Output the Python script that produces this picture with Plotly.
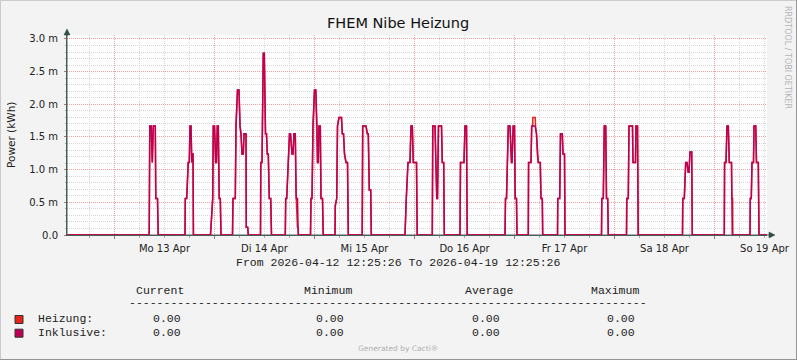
import plotly.graph_objects as go

# ---------------- data ----------------
# time axis: hours since 2026-04-12 12:25:26 ; values in milli-kWh (axis shows "m")
day_labels = ["Mo 13 Apr", "Di 14 Apr", "Mi 15 Apr", "Do 16 Apr", "Fr 17 Apr", "Sa 18 Apr", "So 19 Apr"]
first_midnight_h = 11.4          # position of Mon 13 Apr 00:00 on the hour axis
y_tick_vals = [0.0, 0.5, 1.0, 1.5, 2.0, 2.5, 3.0]
y_tick_text = ["0.0", "0.5 m", "1.0 m", "1.5 m", "2.0 m", "2.5 m", "3.0 m"]

inklusive_t = [0.0,
    19.73, 19.87, 20.21, 20.47, 20.71, 21.19, 21.31, 21.72, 21.89,
    28.32, 28.39, 28.73, 29.09, 29.35, 29.52, 29.76, 29.95, 30.07, 30.24, 30.34,
    34.44, 34.80, 34.97, 35.11, 35.40, 35.69, 35.88, 36.07, 36.31, 36.53, 36.79, 36.96,
    39.72, 39.84, 40.39, 40.56, 40.92, 41.28, 41.52, 41.76, 42.00, 42.31, 42.48, 42.96, 43.03, 43.37, 43.51,
    46.44, 46.51, 46.80, 47.11, 47.35, 47.64, 47.88, 48.07, 48.31, 48.55, 48.89, 49.08,
    52.39, 52.49, 52.73, 53.04, 53.40, 53.64, 54.00, 54.24, 54.48, 54.79, 55.01, 55.32, 55.49,
    58.44, 58.56, 58.80, 59.04, 59.40, 59.71, 60.00, 60.12, 60.31, 60.48, 60.79, 60.96, 61.32, 61.49,
    64.32, 64.39, 64.73, 64.92, 65.28, 65.88, 66.07, 66.36, 66.60, 66.96, 67.32, 67.51,
    70.85, 70.97, 71.76, 72.07, 72.31, 72.55, 72.89, 73.03,
    81.12, 81.29, 81.43, 81.84, 82.32, 82.56, 82.87, 83.11, 83.88, 84.05,
    87.67, 87.79, 88.32, 88.75, 88.92, 89.16, 89.88, 90.07, 90.41, 90.55,
    94.32, 94.44, 95.28, 95.52, 95.88, 96.05,
    105.12, 105.24, 105.48, 105.91, 106.32, 106.68, 106.80, 107.09, 107.40, 107.57, 107.88, 108.00,
    110.71, 110.78, 111.36, 111.53, 112.32, 112.68, 112.87, 113.11, 113.59, 113.76, 114.07, 114.17,
    117.72, 117.79, 118.25, 118.44, 118.87, 119.04, 119.40, 119.52,
    128.28, 128.35, 128.71, 128.95, 129.29, 129.48, 129.77, 129.91,
    134.28, 134.35, 134.71, 134.88, 135.72, 135.84, 136.44, 136.56, 136.92, 137.09,
    147.72, 147.79, 148.15, 148.49, 148.80, 149.09, 149.28, 149.52, 149.93, 150.07,
    157.75, 157.82, 158.16, 158.40, 158.71, 158.95, 159.48, 159.67,
    163.92, 163.99, 164.23, 164.40, 164.76, 164.88, 165.29, 165.48, 165.91, 166.08,
    168.0]
inklusive_v = [0.0,
    0, 1.67, 1.67, 1.11, 1.67, 1.67, 0.56, 0.56, 0,
    0, 0.56, 0.56, 1.11, 1.11, 1.67, 1.67, 1.11, 1.24, 1.24, 0,
    0, 0.56, 0.56, 1.67, 1.67, 1.11, 1.11, 1.67, 1.67, 0.56, 0.56, 0,
    0, 0.56, 0.56, 1.67, 2.22, 2.22, 1.67, 1.55, 1.24, 1.24, 1.55, 1.55, 0.12, 0.12, 0,
    0, 1.11, 1.11, 2.78, 2.78, 1.55, 1.55, 1.24, 1.24, 0.56, 0.56, 0,
    0, 0.56, 0.56, 1.11, 1.55, 1.55, 1.24, 1.24, 1.55, 1.55, 0.56, 0.56, 0,
    0, 0.56, 0.56, 1.67, 2.22, 2.22, 1.67, 1.11, 1.11, 1.67, 1.67, 0.56, 0.56, 0,
    0, 0.45, 0.56, 1.67, 1.80, 1.80, 1.55, 1.55, 1.24, 1.11, 1.11, 0,
    0, 1.67, 1.67, 1.55, 1.55, 0.69, 0.69, 0,
    0, 0.56, 0.56, 1.11, 1.11, 1.67, 1.67, 1.11, 1.11, 0,
    0, 1.67, 1.67, 0.56, 0.56, 1.67, 1.67, 1.11, 1.11, 0,
    0, 1.11, 1.11, 1.67, 1.67, 0,
    0, 0.56, 0.56, 1.67, 1.67, 1.11, 1.11, 1.67, 1.67, 0.56, 0.56, 0,
    0, 1.11, 1.11, 1.67, 1.67, 1.55, 1.24, 1.11, 1.11, 0.56, 0.56, 0,
    0, 0.56, 0.56, 1.55, 1.55, 1.24, 1.24, 0,
    0, 0.56, 0.56, 1.67, 1.67, 0.56, 0.56, 0,
    0, 0.56, 0.56, 1.67, 1.67, 1.11, 1.11, 1.67, 1.67, 0,
    0, 0.56, 0.56, 1.11, 1.11, 0.96, 0.96, 1.27, 1.27, 0,
    0, 1.11, 1.11, 1.67, 1.67, 1.11, 1.11, 0,
    0, 0.56, 0.56, 1.11, 1.11, 1.67, 1.67, 1.11, 1.11, 0,
    0.0]

# Heizung follows Inklusive except in these windows (start_h, end_h, points)
heizung_windows = [
    (55.01, 55.49, [(54.95, 0.68), (55.30, 0.12), (55.49, 0.12), (55.55, 0.0)]),
    (111.53, 112.32, [(111.53, 1.67), (111.77, 1.67), (111.80, 1.80), (112.37, 1.80), (112.45, 1.67)]),
    (159.48, 159.67, [(159.48, 1.11), (159.55, 0.56), (159.75, 0.56), (159.80, 0.0)]),
]

legend_names = ["Heizung:", "Inklusive:"]
legend_current = ["0.00", "0.00"]
legend_minimum = ["0.00", "0.00"]
legend_average = ["0.00", "0.00"]
legend_maximum = ["0.00", "0.00"]

# ---------------- build Heizung ----------------
pts = list(zip(inklusive_t, inklusive_v))
for a, b, rep in heizung_windows:
    pts = [p for p in pts if not (a <= p[0] <= b)] + rep
pts.sort(key=lambda p: p[0])
heizung_t = [p[0] for p in pts]
heizung_v = [p[1] for p in pts]

RED = "#E8231B"
CRIMSON = "#BC0055"
AXIS = "#44605A"
MONO = "Liberation Mono"
SANS = "DejaVu Sans"

fig = go.Figure()
fig.add_trace(go.Scatter(x=heizung_t, y=heizung_v, mode="lines",
                         line=dict(color=RED, width=1.5), hoverinfo="skip", showlegend=False))
fig.add_trace(go.Scatter(x=inklusive_t, y=inklusive_v, mode="lines",
                         line=dict(color=CRIMSON, width=1.5), hoverinfo="skip", showlegend=False))

L, R, T, B = 67, 767, 35, 235
def PX(x):
    return (x - L) / (R - L)
def PY(y):
    return (B - y) / (B - T)

major_x = [first_midnight_h + 24 * i for i in range(len(day_labels))]
minor_x = [first_midnight_h - 12 + 6 * k for k in range(0, 30)]
minor_x = [v for v in minor_x if 0 <= v <= 168 and v not in major_x]
minor_y = [round(0.1 * k, 2) for k in range(1, 31)]
minor_y = [v for v in minor_y if v not in y_tick_vals]

fig.update_layout(
    width=797, height=360,
    margin=dict(l=L, r=797 - R, t=T, b=360 - B, pad=0, autoexpand=False),
    paper_bgcolor="#F3F3F3", plot_bgcolor="#FFFFFF",
    showlegend=False,
    xaxis=dict(range=[0, 168], tickmode="array", tickvals=major_x, ticktext=day_labels,
               ticklabelshift=50, ticklabelstandoff=1,
               showgrid=True, gridcolor="rgba(235,120,120,0.7)", gridwidth=1, griddash="1px,1px",
               ticks="outside", ticklen=3, tickcolor="#9a8080",
               minor=dict(tickvals=minor_x, showgrid=True, gridcolor="#D6D6D6", griddash="1px,1px",
                          ticks="outside", ticklen=2, tickcolor="#aaaaaa"),
               showline=True, linecolor=AXIS, linewidth=1, layer="below traces",
               zeroline=False, tickfont=dict(family=SANS, size=10, color="#222222"),
               fixedrange=True),
    yaxis=dict(range=[0, 3.061], tickmode="array", tickvals=y_tick_vals, ticktext=y_tick_text,
               showgrid=True, gridcolor="rgba(235,120,120,0.7)", gridwidth=1, griddash="1px,1px",
               ticks="outside", ticklen=2, tickcolor="#9a8080", ticklabelstandoff=4,
               minor=dict(tickvals=minor_y, showgrid=True, gridcolor="#D6D6D6", griddash="1px,1px",
                          ticks="outside", ticklen=1, tickcolor="#aaaaaa"),
               showline=True, linecolor=AXIS, linewidth=1, layer="below traces",
               zeroline=False, tickfont=dict(family=SANS, size=10, color="#222222"),
               fixedrange=True),
)

shapes = []
# axis extensions and arrows
shapes.append(dict(type="line", xref="paper", yref="paper", x0=PX(67), x1=PX(770), y0=PY(235), y1=PY(235),
                   line=dict(color=AXIS, width=1), layer="below"))
shapes.append(dict(type="path", xref="paper", yref="paper",
                   path=f"M {PX(769)},{PY(232)} L {PX(775)},{PY(235)} L {PX(769)},{PY(238)} Z",
                   fillcolor="#2E4D44", line=dict(color="#2E4D44", width=0.5)))
shapes.append(dict(type="line", xref="paper", yref="paper", x0=PX(67), x1=PX(67), y0=PY(235), y1=PY(32),
                   line=dict(color=AXIS, width=1)))
shapes.append(dict(type="path", xref="paper", yref="paper",
                   path=f"M {PX(64)},{PY(35)} L {PX(67)},{PY(29)} L {PX(70)},{PY(35)} Z",
                   fillcolor="#2E4D44", line=dict(color="#2E4D44", width=0.5)))
# outer frame
shapes.append(dict(type="line", xref="paper", yref="paper", x0=PX(0), x1=PX(797), y0=PY(0.5), y1=PY(0.5),
                   line=dict(color="#CBCBCB", width=1)))
shapes.append(dict(type="line", xref="paper", yref="paper", x0=PX(0.5), x1=PX(0.5), y0=PY(0), y1=PY(360),
                   line=dict(color="#CBCBCB", width=1)))
shapes.append(dict(type="line", xref="paper", yref="paper", x0=PX(0), x1=PX(797), y0=PY(359.5), y1=PY(359.5),
                   line=dict(color="#959595", width=1)))
shapes.append(dict(type="line", xref="paper", yref="paper", x0=PX(796.5), x1=PX(796.5), y0=PY(0), y1=PY(360),
                   line=dict(color="#959595", width=1)))
# legend swatches
for i, col in enumerate([RED, CRIMSON]):
    y0 = 315.5 + i * 13.7
    shapes.append(dict(type="rect", xref="paper", yref="paper", x0=PX(15), x1=PX(23), y0=PY(y0), y1=PY(y0 + 8),
                       fillcolor=col, line=dict(color="#333333", width=1)))
fig.update_layout(shapes=shapes)

anns = []
def ann(text, x, y, size, family=SANS, color="#222222", xanchor="left", angle=0):
    anns.append(dict(text=text, x=PX(x), y=PY(y), xref="paper", yref="paper", showarrow=False,
                     xanchor=xanchor, yanchor="middle", textangle=angle, borderpad=0,
                     font=dict(family=family, size=size, color=color)))

ann("FHEM Nibe Heizung", 398, 23, 14.5, color="#111111", xanchor="center")
ann("Power (kWh)", 11, 135, 10.5, xanchor="center", angle=-90)
ann("RRDTOOL / TOBI OETIKER", 788, 57, 8, color="#B4B4B4", xanchor="center", angle=90)
ann("From 2026-04-12 12:25:26 To 2026-04-19 12:25:26", 397.5, 262.5, 11.5, family=MONO, xanchor="center")
ann("Current", 135, 290, 11.5, family=MONO)
ann("Minimum", 302.7, 290, 11.5, family=MONO)
ann("Average", 464.3, 290, 11.5, family=MONO)
ann("Maximum", 590, 290, 11.5, family=MONO)
ann("-" * 75, 128.3, 302, 11.5, family=MONO)
for i, name in enumerate(legend_names):
    yy = 318.5 + i * 13.7
    ann(name, 36.7, yy, 11.5, family=MONO)
    ann(legend_current[i], 151.7, yy, 11.5, family=MONO)
    ann(legend_minimum[i], 315, yy, 11.5, family=MONO)
    ann(legend_average[i], 470.7, yy, 11.5, family=MONO)
    ann(legend_maximum[i], 605.7, yy, 11.5, family=MONO)
ann("Generated by Cacti®", 398, 349, 7.5, color="#B0B0B0", xanchor="center")
fig.update_layout(annotations=anns)

fig.write_html("out.html", config={"displayModeBar": False},
               post_script="document.body.style.margin='0';")
